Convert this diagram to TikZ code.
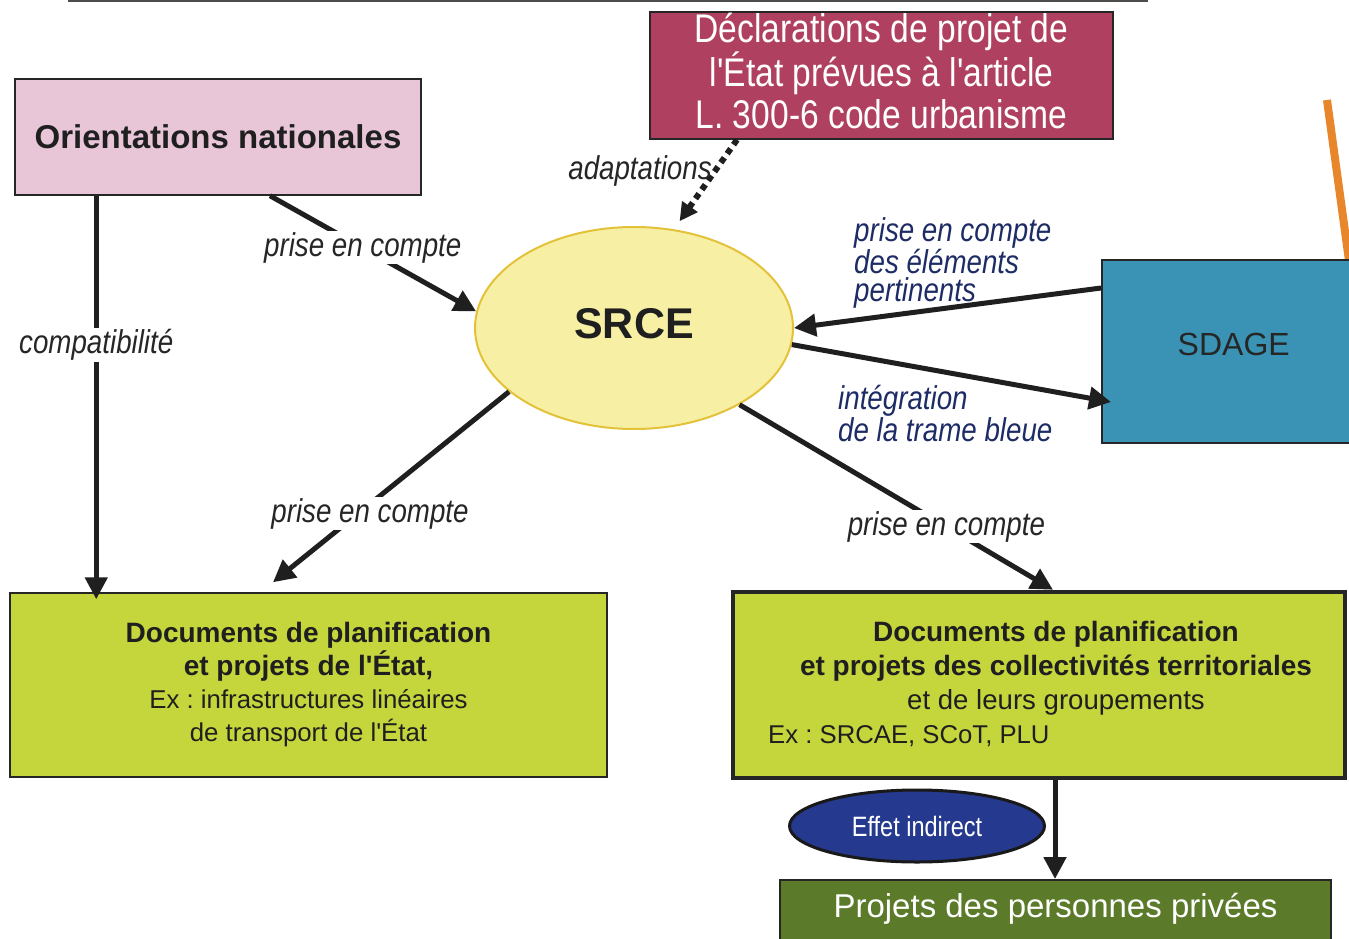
\documentclass[tikz,border=0pt]{standalone}
\usepackage{fontspec}
\setmainfont{Liberation Sans}[Ligatures=TeXOff]
\newfontfamily\narrowfont[FakeStretch=0.84]{Liberation Sans}
\usetikzlibrary{arrows.meta,calc,shapes.geometric}
\definecolor{pinkc}{HTML}{E8C6D8}
\definecolor{raspc}{HTML}{B0405F}
\definecolor{srcefill}{HTML}{F6EFA4}
\definecolor{srceborder}{HTML}{E3C23A}
\definecolor{sdagec}{HTML}{3A93B4}
\definecolor{greenc}{HTML}{C5D63C}
\definecolor{bluec}{HTML}{253A8E}
\definecolor{projc}{HTML}{5B7B2B}
\definecolor{navyc}{HTML}{1E2C66}
\definecolor{orangec}{HTML}{E8862B}
\definecolor{linec}{HTML}{1F1F1F}
\begin{document}
\frenchspacing
\begin{tikzpicture}[x=1pt,y=-1pt,
  frame/.style={rectangle, draw=black!85, line width=1.5pt, inner sep=0pt},
  box/.style={frame, align=center},
  arr/.style={draw=linec, line width=5pt, -{Triangle[length=22pt,width=22pt]}},
  dotarr/.style={draw=linec, line width=6pt, dash pattern=on 6pt off 5pt, -{Triangle[length=18pt,width=18pt]}},
  lab/.style={font=\narrowfont\itshape\fontsize{33}{35}\selectfont, text=black!85, inner sep=1pt},
  wlab/.style={lab, fill=white},
  nlab/.style={font=\narrowfont\itshape\fontsize{33}{28}\selectfont, text=navyc, align=left, inner sep=0pt},
]
\clip (0,0) rectangle (1349,939);
\fill[white] (0,0) rectangle (1349,939);

% decorative strokes
\draw[line width=3pt, draw=black!70] (68,1) -- (1148,1);
\draw[line width=8pt, draw=orangec] (1327,100) -- (1350,268);

% boxes
\node[box, fill=pinkc, minimum width=406, minimum height=116,
      font=\bfseries\fontsize{33}{36}\selectfont, text=black!88] (orient) at (218,137) {Orientations nationales};

\node[box, fill=raspc, minimum width=463, minimum height=127, text=white,
      font=\narrowfont\fontsize{40}{41.5}\selectfont] (decl) at (881.5,75.5)
      {Déclarations de projet de\\l'État prévues à l'article\\L. 300-6 code urbanisme\rule[-9pt]{0pt}{0pt}};

\node[ellipse, draw=srceborder, line width=2pt, fill=srcefill, minimum width=318, minimum height=202,
      inner sep=0pt, text height=31pt, text depth=11pt,
      font=\bfseries\fontsize{43}{45}\selectfont, text=black!88] (srce) at (634,328) {SRCE};

\node[frame, anchor=north west, fill=sdagec, minimum width=264, text height=96pt, text depth=87pt,
      font=\fontsize{32}{34}\selectfont, text=black!85] (sdage) at (1101,259) {SDAGE};

\node[box, fill=greenc, minimum width=597, minimum height=184, text=black!88,
      font=\fontsize{28}{33}\selectfont] (docsL) at (308.5,685)
      {{\bfseries Documents de planification}\\{\bfseries et projets de l'État,}\\
       {\fontsize{25.8}{33}\selectfont Ex : infrastructures linéaires}\\
       {\fontsize{25.8}{33}\selectfont de transport de l'État}};

\node[frame, line width=4.5pt, draw=black!85, fill=greenc, minimum width=612, minimum height=186] (docsR) at (1039,685) {};
\node[align=center, inner sep=0pt, text=black!88, font=\fontsize{28}{34}\selectfont] (docsRtxt) at (1056,668)
      {{\bfseries Documents de planification}\\{\bfseries et projets des collectivités territoriales}\\
       {\fontsize{27.6}{34}\selectfont et de leurs groupements}};
\node[anchor=west, inner sep=0pt, text=black!88, font=\fontsize{25.7}{30}\selectfont] (docsRex) at (768,736)
      {Ex : SRCAE, SCoT, PLU};

\node[ellipse, fill=bluec, draw=black!90, line width=3pt, minimum width=255, minimum height=72, inner sep=0pt,
      text=white, font=\narrowfont\fontsize{28}{30}\selectfont] (effet) at (917,826) {Effet indirect};

\node[frame, anchor=north, fill=projc, minimum width=551, text height=38pt, text depth=52pt,
      text=white, font=\fontsize{33}{35}\selectfont] (proj) at (1055.5,879) {Projets des personnes privées};

% connectors
\draw[dotarr] ($(decl.south)+(-144.5,0)$) -- ($(srce.65)+(0,-9)$);
\node[lab] (adapt) at (640,171) {adaptations};

\draw[arr] ($(orient.south)+(52,0)$) -- node[wlab, pos=0.45] (l1) {prise en compte} (srce.174);
\draw[arr] ($(orient.south west)+(82,0)$) -- node[wlab, pos=0.37] (l2) {compatibilité} ($(docsL.north west)+(87,7)$);
\draw[arr] (srce.207) -- node[wlab, pos=0.64, xshift=12pt] (l3) {prise en compte} ($(docsL.north)+(-35.5,-10)$);
\draw[arr] (srce.324) -- node[wlab, pos=0.66] (l4) {prise en compte} ($(docsR.north)+(14,0)$);
\draw[arr] ($(sdage.north west)+(0,29)$) -- (srce.0);
\draw[arr] (srce.354) -- ($(sdage.north west)+(10,143)$);
\draw[arr] ($(docsR.south)+(16,0)$) -- ($(proj.north)+(-0.5,0)$);

\node[nlab, anchor=north west] (l5) at (854,217) {prise en compte\\des éléments\\pertinents};
\node[nlab, anchor=north west] (l6) at (838,385) {intégration\\de la trame bleue};
\end{tikzpicture}
\end{document}
